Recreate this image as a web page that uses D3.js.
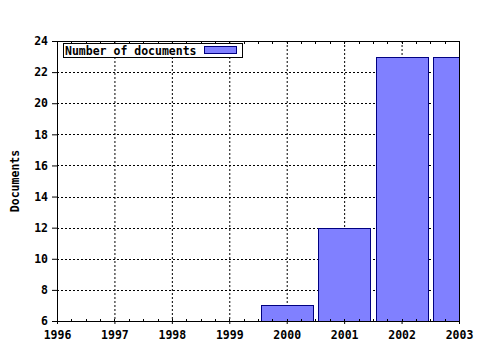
<!DOCTYPE html>
<html>
<head>
<meta charset="utf-8">
<script src="https://cdn.jsdelivr.net/npm/d3@7"></script>
<style>
  body { margin: 0; background: #fff; }
  text { font-family: "DejaVu Sans Mono", monospace; font-weight: bold; font-size: 11.5px; fill: #000; }
</style>
</head>
<body>
<div id="chart"></div>
<script>
// values
var years = [2000, 2001, 2002, 2003];
var docs = [7, 12, 23, 23];
var xTicks = [1996, 1997, 1998, 1999, 2000, 2001, 2002, 2003];
var yTicks = [6, 8, 10, 12, 14, 16, 18, 20, 22, 24];
var seriesName = "Number of documents";

var W = 480, H = 350;
var margin = {top: 41, right: 21, bottom: 29, left: 57};
var width = W - margin.left - margin.right,
    height = H - margin.top - margin.bottom;

var svg = d3.select("#chart").append("svg")
    .attr("width", W).attr("height", H);

var x = d3.scaleLinear().domain([1996, 2003]).range([0, width]);
var y = d3.scaleLinear().domain([6, 24]).range([height, 0]);

svg.append("defs").append("clipPath").attr("id", "plot")
  .append("rect").attr("width", width).attr("height", height);

var g = svg.append("g")
    .attr("transform", "translate(" + margin.left + "," + margin.top + ")");

// grid
g.append("g").selectAll("line")
  .data(xTicks.slice(1, -1))
  .enter().append("line")
  .attr("x1", function(d) { return x(d) + 0.5; })
  .attr("x2", function(d) { return x(d) + 0.5; })
  .attr("y1", 0).attr("y2", height)
  .attr("stroke", "#000").attr("stroke-dasharray", "2,2");

g.append("g").selectAll("line")
  .data(yTicks.slice(1, -1))
  .enter().append("line")
  .attr("y1", function(d) { return Math.round(y(d)) + 0.5; })
  .attr("y2", function(d) { return Math.round(y(d)) + 0.5; })
  .attr("x1", 0).attr("x2", width)
  .attr("stroke", "#000").attr("stroke-dasharray", "2,2");

// bars
var bw = x(1996.9) - x(1996);
g.append("g").attr("clip-path", "url(#plot)")
  .selectAll("rect")
  .data(years)
  .enter().append("rect")
  .attr("x", function(d) { return Math.round(x(d) - bw / 2) + 0.5; })
  .attr("y", function(d, i) { return Math.round(y(docs[i])) + 0.5; })
  .attr("width", Math.round(bw))
  .attr("height", function(d, i) { return Math.round(height - y(docs[i])); })
  .attr("fill", "#8080ff")
  .attr("stroke", "#000080");

// frame
g.append("rect")
  .attr("x", 0.5).attr("y", 0.5)
  .attr("width", width).attr("height", height)
  .attr("fill", "none").attr("stroke", "#000");

// minor ticks every quarter year, top and bottom, inward
var minor = d3.range(1996, 2003.01, 0.25);
g.append("g").selectAll("line").data(minor).enter().append("line")
  .attr("x1", function(d) { return Math.round(x(d)) + 0.5; })
  .attr("x2", function(d) { return Math.round(x(d)) + 0.5; })
  .attr("y1", 0).attr("y2", 3).attr("stroke", "#000");
g.append("g").selectAll("line").data(minor).enter().append("line")
  .attr("x1", function(d) { return Math.round(x(d)) + 0.5; })
  .attr("x2", function(d) { return Math.round(x(d)) + 0.5; })
  .attr("y1", height - 2).attr("y2", height + 1).attr("stroke", "#000");

// axes
var xAxis = g.append("g")
  .attr("transform", "translate(0," + height + ")")
  .call(d3.axisBottom(x).tickValues(xTicks).tickFormat(d3.format("d")).tickSize(3).tickPadding(7));
var yAxis = g.append("g")
  .call(d3.axisLeft(y).tickValues(yTicks).tickSize(5).tickPadding(4));
[xAxis, yAxis].forEach(function(a) {
  a.select(".domain").remove();
  a.attr("font-family", null).attr("font-size", null);
  a.selectAll(".tick line").attr("stroke", "#000");
});

// y label
svg.append("text")
  .attr("transform", "translate(19," + (margin.top + height / 2) + ") rotate(-90)")
  .attr("text-anchor", "middle")
  .text("Documents");

// legend
var leg = g.append("g").attr("transform", "translate(6,2)");
leg.append("rect")
  .attr("x", 0.5).attr("y", 0.5).attr("width", 179).attr("height", 14)
  .attr("fill", "#fff").attr("stroke", "#000");
leg.append("text").attr("x", 2).attr("y", 11.5).text(seriesName);
leg.append("rect")
  .attr("x", 141.5).attr("y", 3.5).attr("width", 32).attr("height", 7)
  .attr("fill", "#8080ff").attr("stroke", "#000080");
</script>
</body>
</html>
